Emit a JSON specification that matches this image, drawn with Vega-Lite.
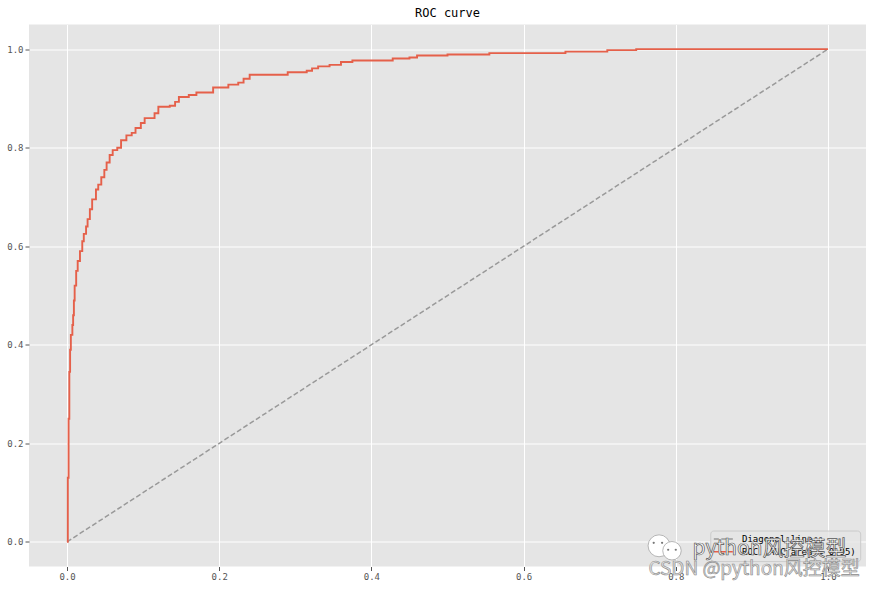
{"$schema":"https://vega.github.io/schema/vega-lite/v6.json","width":837,"height":542,"autosize":{"type":"none"},"padding":{"left":29,"top":24.5,"right":7,"bottom":22.5},"background":"white","title":{"text":"ROC curve","font":"DejaVu Sans Mono","fontSize":12,"fontWeight":"normal","color":"#000000","offset":5},"config":{"view":{"fill":"#e5e5e5","stroke":null},"axis":{"labelFont":"DejaVu Sans Mono","labelFontSize":9,"labelColor":"#555555","tickColor":"#555555","tickSize":4,"gridColor":"#ffffff","gridWidth":1,"gridOpacity":1,"domain":false,"title":null}},"layer":[{"data":{"values":[{"x":0,"y":0,"series":"Diagonal line"},{"x":1,"y":1,"series":"Diagonal line"}]},"mark":{"type":"line","strokeWidth":1.5},"encoding":{"x":{"field":"x","type":"quantitative","scale":{"domain":[-0.05,1.05],"nice":false,"zero":false},"axis":{"values":[0,0.2,0.4,0.6,0.8,1],"format":".1f","grid":true}},"y":{"field":"y","type":"quantitative","scale":{"domain":[-0.05,1.05],"nice":false,"zero":false},"axis":{"values":[0,0.2,0.4,0.6,0.8,1],"format":".1f","grid":true}},"color":{"field":"series","type":"nominal","scale":{"domain":["Diagonal line","ROC (AUC area = 0.95)"],"range":["#999999","#e5604a"]},"legend":null},"strokeDash":{"field":"series","type":"nominal","scale":{"domain":["Diagonal line","ROC (AUC area = 0.95)"],"range":[[5,2.5],[1,0]]},"legend":null}}},{"data":{"values":[{"x":0,"y":0},{"x":0.001,"y":0.13},{"x":0.002,"y":0.25},{"x":0.003,"y":0.345},{"x":0.004,"y":0.39},{"x":0.005,"y":0.42},{"x":0.007,"y":0.44},{"x":0.008,"y":0.46},{"x":0.009,"y":0.49},{"x":0.01,"y":0.52},{"x":0.012,"y":0.55},{"x":0.014,"y":0.57},{"x":0.017,"y":0.59},{"x":0.02,"y":0.61},{"x":0.022,"y":0.625},{"x":0.025,"y":0.64},{"x":0.027,"y":0.655},{"x":0.03,"y":0.675},{"x":0.033,"y":0.695},{"x":0.038,"y":0.715},{"x":0.041,"y":0.725},{"x":0.045,"y":0.74},{"x":0.049,"y":0.755},{"x":0.052,"y":0.77},{"x":0.056,"y":0.785},{"x":0.06,"y":0.795},{"x":0.066,"y":0.8},{"x":0.071,"y":0.815},{"x":0.078,"y":0.825},{"x":0.085,"y":0.83},{"x":0.09,"y":0.84},{"x":0.097,"y":0.85},{"x":0.102,"y":0.86},{"x":0.115,"y":0.87},{"x":0.12,"y":0.883},{"x":0.135,"y":0.885},{"x":0.142,"y":0.893},{"x":0.147,"y":0.903},{"x":0.16,"y":0.907},{"x":0.17,"y":0.912},{"x":0.192,"y":0.922},{"x":0.212,"y":0.928},{"x":0.225,"y":0.932},{"x":0.232,"y":0.94},{"x":0.24,"y":0.948},{"x":0.29,"y":0.953},{"x":0.315,"y":0.956},{"x":0.322,"y":0.961},{"x":0.33,"y":0.965},{"x":0.345,"y":0.968},{"x":0.36,"y":0.974},{"x":0.375,"y":0.977},{"x":0.428,"y":0.981},{"x":0.45,"y":0.983},{"x":0.46,"y":0.987},{"x":0.5,"y":0.989},{"x":0.555,"y":0.992},{"x":0.655,"y":0.995},{"x":0.71,"y":0.998},{"x":0.748,"y":1},{"x":1,"y":1}]},"mark":{"type":"line","strokeWidth":1.9,"interpolate":"step-after","stroke":"#e5604a"},"encoding":{"x":{"field":"x","type":"quantitative"},"y":{"field":"y","type":"quantitative"}}},{"data":{"values":[{"x":0.846,"x2":1.043,"y":0.022,"y2":-0.04}]},"mark":{"type":"rect","fill":"#e5e5e5","fillOpacity":0.8,"stroke":"#cccccc","strokeWidth":1,"cornerRadius":3,"clip":false},"encoding":{"x":{"field":"x","type":"quantitative"},"x2":{"field":"x2"},"y":{"field":"y","type":"quantitative"},"y2":{"field":"y2"}}},{"data":{"values":[{"x":0.85,"y":0.006,"series":"Diagonal line"},{"x":0.875,"y":0.006,"series":"Diagonal line"},{"x":0.85,"y":-0.02,"series":"ROC (AUC area = 0.95)"},{"x":0.875,"y":-0.02,"series":"ROC (AUC area = 0.95)"}]},"mark":{"type":"line","strokeWidth":1.5,"clip":false},"encoding":{"x":{"field":"x","type":"quantitative"},"y":{"field":"y","type":"quantitative"},"color":{"field":"series","type":"nominal"},"strokeDash":{"field":"series","type":"nominal"}}},{"data":{"values":[{"x":0.887,"y":0.006,"t":"Diagonal line"},{"x":0.887,"y":-0.02,"t":"ROC (AUC area = 0.95)"}]},"mark":{"type":"text","align":"left","baseline":"middle","font":"DejaVu Sans Mono","fontSize":9,"fill":"#000000","clip":false},"encoding":{"x":{"field":"x","type":"quantitative"},"y":{"field":"y","type":"quantitative"},"text":{"field":"t"}}},{"data":{"values":[{"x":0.778,"y":-0.008}]},"mark":{"type":"point","filled":true,"fill":"#ffffff","stroke":"#999999","strokeWidth":0.7,"opacity":1,"size":480,"clip":false},"encoding":{"x":{"field":"x","type":"quantitative"},"y":{"field":"y","type":"quantitative"}}},{"data":{"values":[{"x":0.795,"y":-0.018}]},"mark":{"type":"point","filled":true,"fill":"#ffffff","stroke":"#999999","strokeWidth":0.7,"opacity":1,"size":340,"clip":false},"encoding":{"x":{"field":"x","type":"quantitative"},"y":{"field":"y","type":"quantitative"}}},{"data":{"values":[{"x":0.771,"y":-0.002},{"x":0.782,"y":-0.002},{"x":0.79,"y":-0.016},{"x":0.8,"y":-0.016}]},"mark":{"type":"point","filled":true,"fill":"#777777","stroke":null,"opacity":1,"size":5,"clip":false},"encoding":{"x":{"field":"x","type":"quantitative"},"y":{"field":"y","type":"quantitative"}}},{"data":{"values":[{"x":0.822,"y":-0.015,"t":"python风控模型"}]},"mark":{"type":"text","align":"left","baseline":"middle","font":"Noto Sans CJK SC","fontSize":21,"fill":"#ffffff","stroke":"#555555","strokeWidth":0.7,"clip":false},"encoding":{"x":{"field":"x","type":"quantitative"},"y":{"field":"y","type":"quantitative"},"text":{"field":"t"}}},{"data":{"values":[{"x":0.764,"y":-0.055,"t":"CSDN @python风控模型"}]},"mark":{"type":"text","align":"left","baseline":"middle","font":"Noto Sans CJK SC","fontSize":19,"fill":"#e0e0e0","stroke":"#8a8a8a","strokeWidth":0.6,"clip":false},"encoding":{"x":{"field":"x","type":"quantitative"},"y":{"field":"y","type":"quantitative"},"text":{"field":"t"}}}]}
